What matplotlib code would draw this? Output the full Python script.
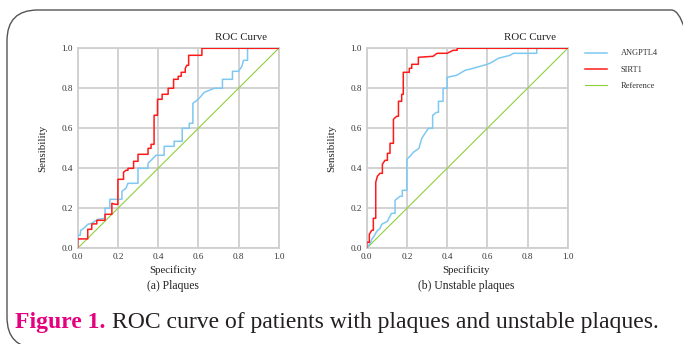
import matplotlib
matplotlib.use("Agg")
import matplotlib.pyplot as plt
from matplotlib.patches import FancyBboxPatch

# panel (a) plaques: (1 - specificity, sensitivity) steps
a_sirt1_x = [0, 0, 0.05, 0.05, 0.07, 0.07, 0.095, 0.095, 0.136, 0.136, 0.17, 0.17,
             0.185, 0.2, 0.2, 0.228, 0.228, 0.24, 0.25, 0.25, 0.278, 0.278, 0.3, 0.3,
             0.35, 0.35, 0.365, 0.365, 0.38, 0.38, 0.397, 0.397, 0.42, 0.42, 0.45, 0.45,
             0.477, 0.477, 0.5, 0.5, 0.515, 0.515, 0.535, 0.535, 0.543, 0.552, 0.552,
             0.618, 0.618, 1.0]
a_sirt1_y = [0, 0.047, 0.047, 0.095, 0.095, 0.122, 0.122, 0.14, 0.14, 0.17, 0.17, 0.225,
             0.22, 0.22, 0.345, 0.345, 0.38, 0.39, 0.39, 0.4, 0.4, 0.435, 0.435, 0.47,
             0.47, 0.5, 0.5, 0.52, 0.52, 0.665, 0.665, 0.745, 0.745, 0.77, 0.77, 0.8,
             0.8, 0.845, 0.845, 0.86, 0.86, 0.88, 0.88, 0.9, 0.915, 0.915, 0.965,
             0.965, 1.0, 1.0]
a_angptl4_x = [0, 0, 0.012, 0.015, 0.03, 0.05, 0.07, 0.1, 0.136, 0.136, 0.16, 0.16,
               0.22, 0.22, 0.24, 0.25, 0.3, 0.3, 0.35, 0.35, 0.37, 0.39, 0.43, 0.43,
               0.48, 0.48, 0.52, 0.52, 0.555, 0.555, 0.573, 0.573, 0.6, 0.63, 0.68,
               0.72, 0.72, 0.77, 0.77, 0.8, 0.817, 0.825, 0.845, 0.845, 1.0]
a_angptl4_y = [0, 0.065, 0.065, 0.09, 0.1, 0.12, 0.125, 0.145, 0.15, 0.2, 0.2, 0.245,
               0.245, 0.285, 0.3, 0.325, 0.325, 0.4, 0.4, 0.425, 0.445, 0.465, 0.465, 0.51,
               0.51, 0.535, 0.535, 0.6, 0.6, 0.625, 0.625, 0.725, 0.745, 0.78, 0.8,
               0.8, 0.845, 0.845, 0.885, 0.885, 0.91, 0.94, 0.94, 1.0, 1.0]

# panel (b) unstable plaques
b_sirt1_x = [0, 0, 0.013, 0.013, 0.025, 0.033, 0.033, 0.045, 0.045, 0.053, 0.066, 0.078,
             0.078, 0.091, 0.103, 0.103, 0.116, 0.116, 0.133, 0.133, 0.149, 0.158, 0.158,
             0.174, 0.174, 0.182, 0.182, 0.212, 0.212, 0.224, 0.224, 0.257, 0.257, 0.33,
             0.35, 0.4, 0.43, 0.45, 0.45, 1.0]
b_sirt1_y = [0, 0.03, 0.03, 0.07, 0.09, 0.09, 0.15, 0.15, 0.33, 0.36, 0.375, 0.375,
             0.42, 0.44, 0.44, 0.475, 0.475, 0.525, 0.525, 0.645, 0.66, 0.66, 0.735,
             0.735, 0.77, 0.77, 0.88, 0.88, 0.9, 0.9, 0.92, 0.92, 0.955, 0.96,
             0.975, 0.975, 0.99, 0.99, 1.0, 1.0]
b_angptl4_x = [0, 0.02, 0.025, 0.036, 0.05, 0.066, 0.075, 0.103, 0.113, 0.124, 0.141,
               0.141, 0.166, 0.177, 0.177, 0.2, 0.2, 0.22, 0.232, 0.26, 0.274, 0.29,
               0.307, 0.328, 0.328, 0.348, 0.357, 0.357, 0.38, 0.38, 0.4, 0.4, 0.448,
               0.464, 0.49, 0.53, 0.564, 0.6, 0.622, 0.655, 0.713, 0.73, 0.846, 0.846, 1.0]
b_angptl4_y = [0, 0.03, 0.045, 0.06, 0.085, 0.1, 0.12, 0.135, 0.155, 0.175, 0.175,
               0.24, 0.26, 0.26, 0.29, 0.29, 0.445, 0.465, 0.48, 0.5, 0.55, 0.575,
               0.6, 0.6, 0.665, 0.68, 0.68, 0.735, 0.735, 0.8, 0.8, 0.855, 0.865,
               0.875, 0.89, 0.9, 0.91, 0.92, 0.93, 0.95, 0.965, 0.975, 0.975, 1.0, 1.0]

ref_line = [0, 1]
ticks = [0.0, 0.2, 0.4, 0.6, 0.8, 1.0]
series_names = ["ANGPTL4", "SIRT1", "Reference"]
panel_titles = ["(a) Plaques", "(b) Unstable plaques"]

BLUE = "#7ec8f2"
RED = "#ff1a1a"
GREEN = "#8fcf3c"
GRID = "#cfcfcf"

plt.rcParams["font.family"] = ["Liberation Serif", "DejaVu Serif"]

fig = plt.figure(figsize=(6.83, 3.44), dpi=100)
W, H = 683.0, 344.0

# rounded frame, right and bottom edges run past the picture
frame = FancyBboxPatch((7 / W, -4 / H), 695 / W, 338 / H,
                       boxstyle="round,pad=0,rounding_size=0.045",
                       transform=fig.transFigure, fill=False,
                       edgecolor="#555555", linewidth=1.0, mutation_aspect=W / H)
fig.patches.append(frame)

panels = [
    (77.7, a_sirt1_x, a_sirt1_y, a_angptl4_x, a_angptl4_y, 173),
    (366.7, b_sirt1_x, b_sirt1_y, b_angptl4_x, b_angptl4_y, 466),
]

axes = []
for i, (left, sx, sy, ax_x, ax_y, cx) in enumerate(panels):
    ax = fig.add_axes([left / W, (H - 248.3) / H, 201 / W, 200 / H])
    ax.plot(ax_x, ax_y, color=BLUE, lw=1.1, label=series_names[0], zorder=3)
    ax.plot(sx, sy, color=RED, lw=1.1, label=series_names[1], zorder=4)
    ax.plot(ref_line, ref_line, color=GREEN, lw=0.8, label=series_names[2], zorder=2)
    ax.set_xlim(0, 1)
    ax.set_ylim(0, 1)
    ax.set_xticks(ticks)
    ax.set_yticks(ticks)
    ax.set_xticklabels([f"{t:.1f}" for t in ticks])
    ax.set_yticklabels([f"{t:.1f}" for t in ticks])
    ax.tick_params(length=0, labelsize=6.6, colors="#333333", pad=3.5)
    ax.grid(True, color=GRID, lw=1.3, zorder=0)
    ax.set_axisbelow(True)
    for sp in ax.spines.values():
        sp.set_color(GRID)
        sp.set_linewidth(1.3)
    ax.set_title("ROC Curve", fontsize=7.8, x=0.81, pad=6, color="#222222")
    ax.set_ylabel("Sensibility", fontsize=7.8, labelpad=10, color="#222222")
    fig.text(cx / W, 1 - 270 / H, "Specificity", fontsize=7.8, ha="center",
             va="center", color="#222222")
    fig.text(cx / W, 1 - 285.5 / H, panel_titles[i], fontsize=8.4, ha="center",
             va="center", color="#222222")
    axes.append(ax)

leg = axes[1].legend(loc="upper left", bbox_to_anchor=(1.065, 1.015), frameon=False,
                     fontsize=6.0, handlelength=2.7, handletextpad=1.6,
                     labelspacing=1.0, borderpad=0, labelcolor="#333333")

fig.text(15 / W, 1 - 328 / H, "Figure 1.", fontsize=17, fontweight="bold",
         color="#e4007f", ha="left", va="baseline")
fig.text(112 / W, 1 - 328 / H, "ROC curve of patients with plaques and unstable plaques.",
         fontsize=17, color="#231f20", ha="left", va="baseline")

fig.savefig("out.png", dpi=100)
